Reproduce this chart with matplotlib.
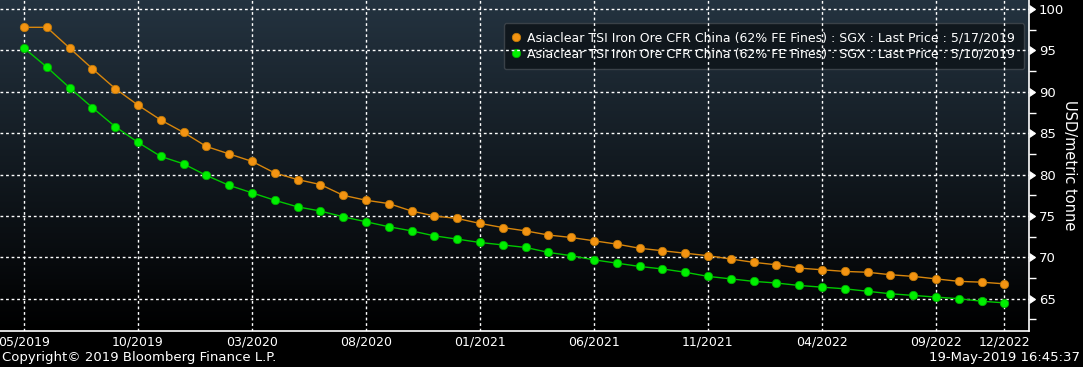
import numpy as np
import matplotlib
matplotlib.use("Agg")
import matplotlib.pyplot as plt
import matplotlib.markers as mmarkers

# monthly contracts 05/2019 .. 12/2022
tick_pos = [0, 5, 10, 15, 20, 25, 30, 35, 40, 43]
tick_labels = ["05/2019", "10/2019", "03/2020", "08/2020", "01/2021",
               "06/2021", "11/2021", "04/2022", "09/2022", "12/2022"]

price_0517 = [97.8, 97.8, 95.3, 92.8, 90.4, 88.4, 86.6, 85.1, 83.4, 82.5,
              81.6, 80.2, 79.4, 78.8, 77.5, 76.9, 76.5, 75.6, 75.0, 74.7,
              74.1, 73.6, 73.2, 72.7, 72.4, 72.0, 71.6, 71.1, 70.8, 70.5,
              70.2, 69.8, 69.4, 69.1, 68.7, 68.5, 68.3, 68.2, 67.9, 67.7,
              67.4, 67.1, 67.0, 66.8]
price_0510 = [95.3, 93.0, 90.5, 88.1, 85.8, 83.9, 82.2, 81.3, 79.9, 78.7,
              77.8, 76.9, 76.1, 75.6, 74.9, 74.3, 73.7, 73.2, 72.6, 72.2,
              71.8, 71.5, 71.2, 70.6, 70.2, 69.7, 69.3, 68.9, 68.6, 68.2,
              67.7, 67.4, 67.1, 66.9, 66.6, 66.4, 66.2, 65.9, 65.6, 65.4,
              65.2, 65.0, 64.7, 64.5]

label_0517 = "Asiaclear TSI Iron Ore CFR China (62% FE Fines) : SGX : Last Price : 5/17/2019"
label_0510 = "Asiaclear TSI Iron Ore CFR China (62% FE Fines) : SGX : Last Price : 5/10/2019"

plt.rcParams['font.family'] = ['DejaVu Sans']

fig = plt.figure(figsize=(10.83, 3.67), dpi=100, facecolor="black")
ax = fig.add_axes([0.0, 1 - 331 / 367, 1029 / 1083, 331 / 367])

x = np.arange(len(price_0517))
xlim = (-1.05, 44.08)
ylim = (61.1, 101.1)

# gradient background
grad = np.linspace(0, 1, 256).reshape(-1, 1)
top = np.array([0x24, 0x33, 0x40]) / 255
bot = np.array([0, 0, 0]) / 255
img = top * (1 - grad[:, :, None]) + bot * grad[:, :, None]
ax.imshow(img, extent=(xlim[0], xlim[1], ylim[0], ylim[1]), aspect="auto",
          zorder=0, origin="upper")

ax.plot(x, price_0517, color="#d8860c", lw=1.0, marker="o", ms=6,
        mfc="#f39412", mec="#c27a08", mew=0.6, label=label_0517, zorder=3)
ax.plot(x, price_0510, color="#00c800", lw=1.0, marker="o", ms=6,
        mfc="#00f000", mec="#00b000", mew=0.6, label=label_0510, zorder=3)

ax.set_xlim(*xlim)
ax.set_ylim(*ylim)
ax.set_xticks(tick_pos)
ax.set_xticklabels(tick_labels)
ax.set_yticks(np.arange(65, 101, 5))
ax.set_yticks(np.arange(62.5, 101, 5), minor=True)

ax.grid(True, which="major", color="white", ls=(0, (2, 2)), lw=1.0, zorder=1)

for s in ["left", "top"]:
    ax.spines[s].set_visible(False)
for s in ["right", "bottom"]:
    ax.spines[s].set_color("white")
    ax.spines[s].set_linewidth(1.2)

ax.yaxis.tick_right()
ax.tick_params(axis="y", which="major", colors="white", labelsize=9.5, length=6, pad=1)
ax.tick_params(axis="y", which="minor", colors="white", length=5, width=1)
for t in ax.yaxis.get_major_ticks():
    t.tick2line.set_marker(mmarkers.CARETRIGHTBASE)
    t.tick2line.set_markersize(6)
ax.tick_params(axis="x", colors="white", labelsize=9, length=0, pad=3)
ax.set_ylabel("USD/metric tonne", color="white", fontsize=10.5, rotation=-90,
              va="center", ha="center")
ax.yaxis.set_label_coords(1070 / 1029, 0.5)

leg = ax.legend(loc="upper right", bbox_to_anchor=(1024 / 1029, 1 - 23 / 331),
                fontsize=9, frameon=True, fancybox=True, markerscale=1.0,
                handlelength=0.6, handletextpad=0.6, borderpad=0.7,
                labelspacing=0.2, borderaxespad=0)
leg.get_frame().set_facecolor("#10171d")
leg.get_frame().set_edgecolor("#3a4148")
leg.get_frame().set_alpha(1)
leg.set_zorder(0.5)  # grid shows through the box like the original
for h in leg.get_lines():
    h.set_linestyle("none")
for t in leg.get_texts():
    t.set_color("white")

fig.text(2 / 1083, 1 - 358 / 367, "Copyright\u00a9 2019 Bloomberg Finance L.P.",
         color="white", fontsize=9.5, va="center", ha="left")
fig.text(1080 / 1083, 1 - 358 / 367, "19-May-2019 16:45:37",
         color="white", fontsize=9.5, va="center", ha="right")

fig.savefig("out.png", dpi=100, facecolor="black")
